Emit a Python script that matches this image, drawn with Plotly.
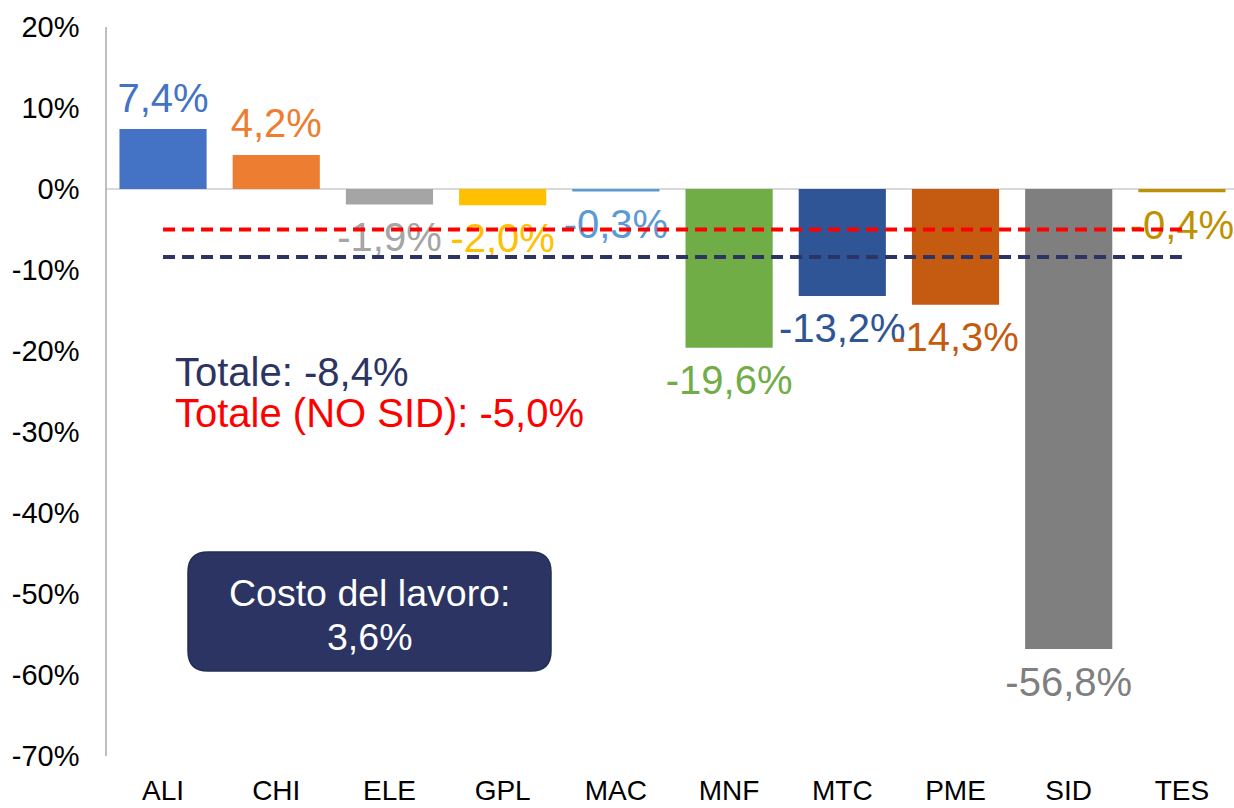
import plotly.graph_objects as go

categories = ["ALI", "CHI", "ELE", "GPL", "MAC", "MNF", "MTC", "PME", "SID", "TES"]
values = [7.4, 4.2, -1.9, -2.0, -0.3, -19.6, -13.2, -14.3, -56.8, -0.4]
colors = ["#4472C4", "#ED7D31", "#A5A5A5", "#FFC000", "#5B9BD5",
          "#70AD47", "#2F5597", "#C55A11", "#7F7F7F", "#BF9000"]
total_all = -8.4
total_no_sid = -5.0
labour_cost = 3.6
y_tickvals = [20, 10, 0, -10, -20, -30, -40, -50, -60, -70]
y_ticktext = ["20%", "10%", "0%", "-10%", "-20%", "-30%", "-40%", "-50%", "-60%", "-70%"]

FONT = "Arial, Liberation Sans, sans-serif"
NAVY = "#2B3462"


def pct(v):
    return f"{v:.1f}".replace(".", ",") + "%"


W, H = 1234, 808
L, R, T, B = 107, 0, 27, 52
PW, PH = W - L - R, H - T - B


def px(x):
    return (x - L) / PW


def py(y):
    return (H - B - y) / PH


fig = go.Figure()
fig.add_trace(go.Bar(x=categories, y=values, marker=dict(color=colors, line=dict(width=0)),
                     showlegend=False, hoverinfo="skip"))

off_pos, off_neg = 3.4, 4.5
fig.add_trace(go.Scatter(
    x=categories,
    y=[v + off_pos if v >= 0 else v - off_neg for v in values],
    mode="text",
    text=[pct(v) for v in values],
    textposition="middle center",
    textfont=dict(family=FONT, size=40, color=colors),
    showlegend=False, hoverinfo="skip", cliponaxis=False))

fig.add_trace(go.Scatter(x=categories, y=[total_no_sid] * len(categories), mode="lines",
                         line=dict(color="#FF0000", width=4, dash="12px,7px"),
                         showlegend=False, hoverinfo="skip"))
fig.add_trace(go.Scatter(x=categories, y=[total_all] * len(categories), mode="lines",
                         line=dict(color=NAVY, width=4, dash="12px,7px"),
                         showlegend=False, hoverinfo="skip"))

# rounded box
x0, x1, y0, y1, r = 188, 551, 552, 671, 20
path = (f"M {px(x0 + r)},{py(y0)} L {px(x1 - r)},{py(y0)} Q {px(x1)},{py(y0)} {px(x1)},{py(y0 + r)} "
        f"L {px(x1)},{py(y1 - r)} Q {px(x1)},{py(y1)} {px(x1 - r)},{py(y1)} "
        f"L {px(x0 + r)},{py(y1)} Q {px(x0)},{py(y1)} {px(x0)},{py(y1 - r)} "
        f"L {px(x0)},{py(y0 + r)} Q {px(x0)},{py(y0)} {px(x0 + r)},{py(y0)} Z")
fig.add_shape(type="path", path=path, xref="paper", yref="paper",
              fillcolor=NAVY, line=dict(color="#1F3050", width=1.5), layer="above")

fig.add_annotation(xref="paper", yref="paper", x=px((x0 + x1) / 2), y=py(593),
                   text="Costo del lavoro:", showarrow=False,
                   font=dict(family=FONT, size=37.5, color="white"),
                   xanchor="center", yanchor="middle")
fig.add_annotation(xref="paper", yref="paper", x=px((x0 + x1) / 2), y=py(637),
                   text=pct(labour_cost), showarrow=False,
                   font=dict(family=FONT, size=37.5, color="white"),
                   xanchor="center", yanchor="middle")

fig.add_annotation(xref="paper", yref="paper", x=px(173), y=py(372),
                   text=f"Totale: {pct(total_all)}", showarrow=False,
                   font=dict(family=FONT, size=40, color=NAVY), xanchor="left", yanchor="middle")
fig.add_annotation(xref="paper", yref="paper", x=px(173), y=py(413),
                   text=f"Totale (NO SID): {pct(total_no_sid)}", showarrow=False,
                   font=dict(family=FONT, size=40, color="#FF0000"), xanchor="left", yanchor="middle")

fig.update_layout(
    width=W, height=H,
    margin=dict(l=L, r=R, t=T, b=B, pad=0, autoexpand=False),
    plot_bgcolor="white", paper_bgcolor="white",
    bargap=0.23,
    font=dict(family=FONT, color="black"),
)
fig.update_xaxes(range=[-0.495, 9.46], showgrid=False, showline=False, ticks="",
                 tickfont=dict(family=FONT, size=28, color="black"), ticklabelstandoff=15,
                 zeroline=False, automargin=False)
fig.update_yaxes(range=[-70, 20], tickvals=y_tickvals, ticktext=y_ticktext, showgrid=False,
                 showline=True, linecolor="#BFBFBF", linewidth=1.5, ticks="",
                 tickfont=dict(family=FONT, size=29, color="black"), ticklabelstandoff=20,
                 zeroline=True, zerolinecolor="#D9D9D9", zerolinewidth=2, automargin=False)

fig.write_html("out.html", config={"displayModeBar": False},
               post_script="document.body.style.margin='0';document.body.style.overflow='hidden';")
